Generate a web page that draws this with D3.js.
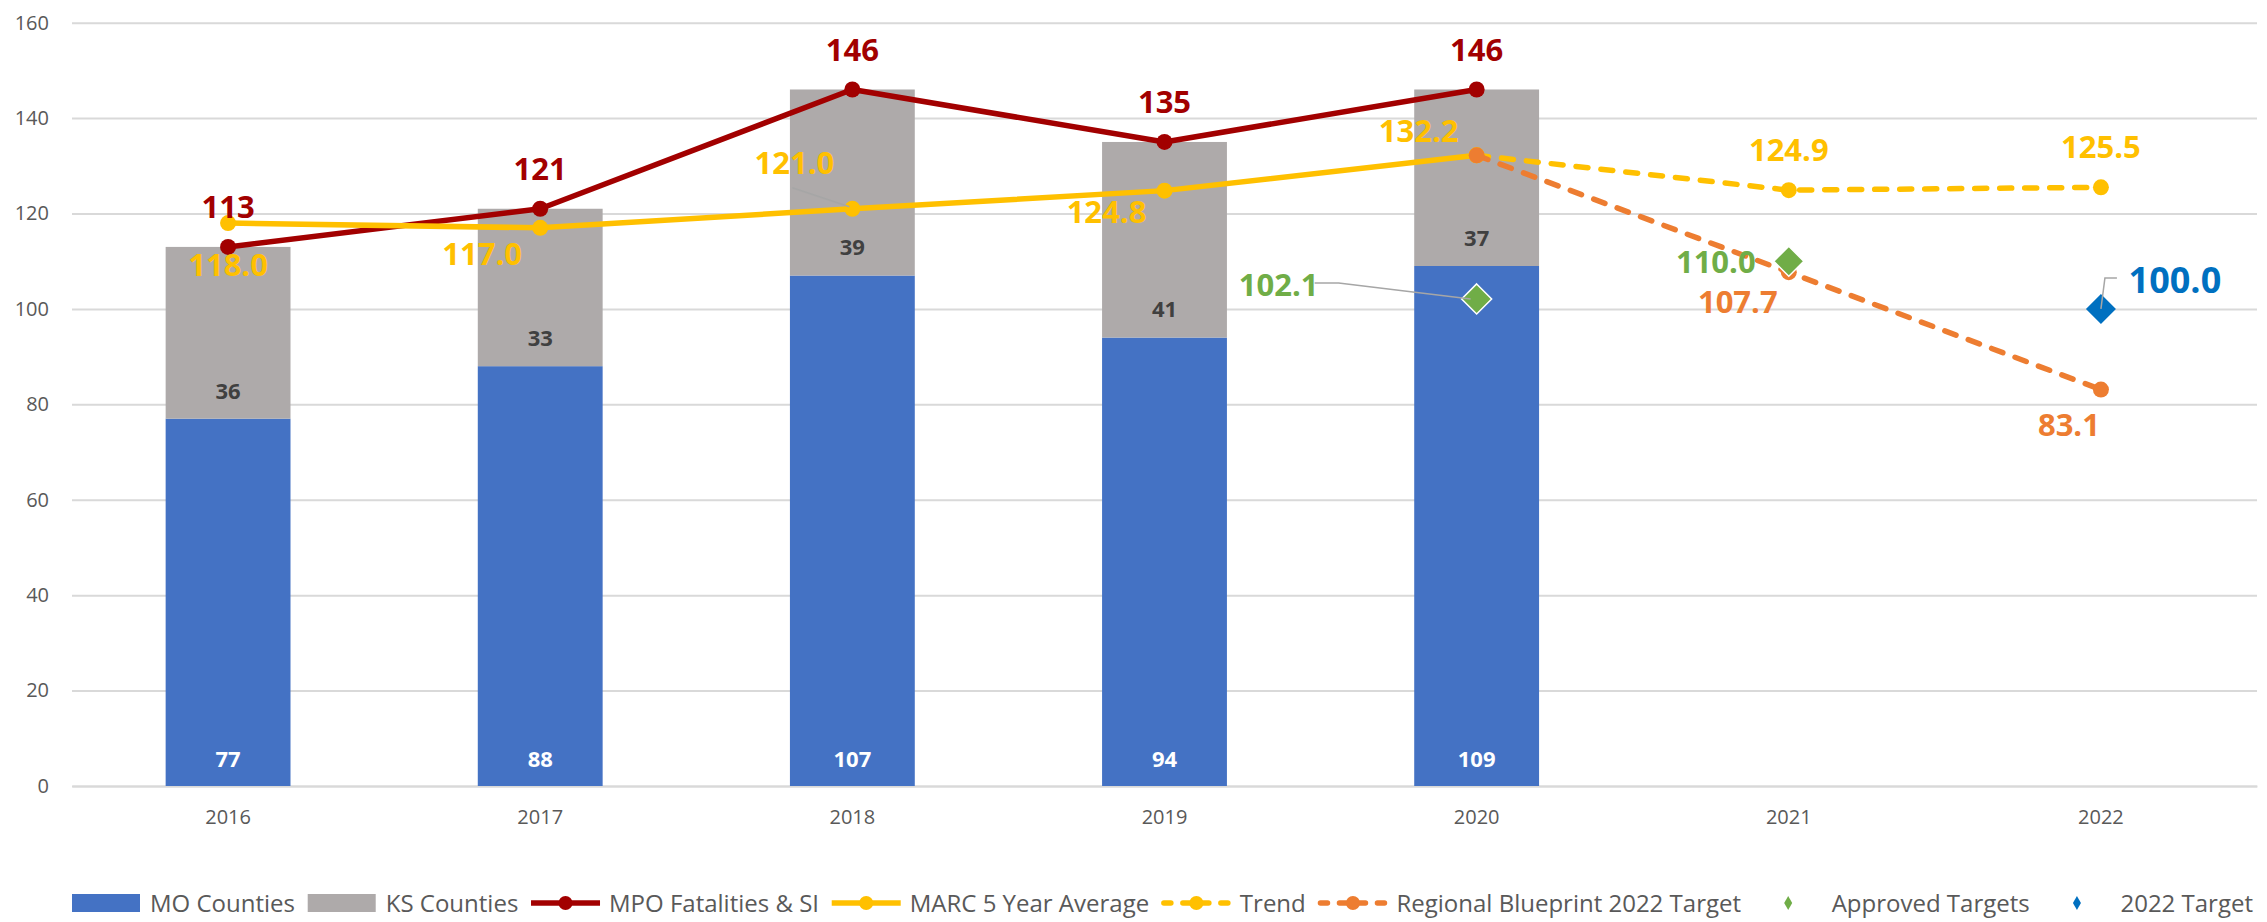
<!DOCTYPE html>
<html>
<head>
<meta charset="utf-8">
<script src="https://cdn.jsdelivr.net/npm/d3@7"></script>
<style>
  body { margin: 0; background: #fff; }
  svg { display: block; font-family: "Open Sans", sans-serif; }
</style>
</head>
<body>
<script>
// values
const years = ["2016", "2017", "2018", "2019", "2020", "2021", "2022"];
const barYears = ["2016", "2017", "2018", "2019", "2020"];
const moCounties = [77, 88, 107, 94, 109];
const ksCounties = [36, 33, 39, 41, 37];
const mpoTotal = [113, 121, 146, 135, 146];
const marcAvg = [118.0, 117.0, 121.0, 124.8, 132.2];
const trendYears = ["2020", "2021", "2022"];
const trend = [132.2, 124.9, 125.5];
const blueprint = [132.2, 107.7, 83.1];
const approvedYears = ["2020", "2021"];
const approved = [102.1, 110.0];
const targetYears = ["2022"];
const target2022 = [100.0];
const yTicks = [0, 20, 40, 60, 80, 100, 120, 140, 160];

// label nudges in px (layout only)
const marcLabelOff = [[0, 42], [-58, 26], [-58, -46], [-58, 21], [-58, -24]];
const trendLabelOff = [null, [0, -40], [0, -40]];
const blueLabelOff = [null, [-51, 30], [-32, 35]];
const apprLabelOff = [[-198, -14], [-73, 1]];

const w = 2267, h = 922;
const left = 72, right = 2257;
const svg = d3.select("body").append("svg").attr("width", w).attr("height", h);

const x = d3.scaleBand().domain(years).range([left, right]).paddingInner(0.6).paddingOuter(0.3);
const y = d3.scaleLinear().domain([0, 160]).range([786, 22.7]);
const cx = d => x(d) + x.bandwidth() / 2;

const colors = {
  mo: "#4472C4", ks: "#AEAAAA", mpo: "#A20000", marc: "#FFC000",
  trend: "#FFC000", blue: "#ED7D31", appr: "#70AD47", target: "#0070C0"
};

// y grid + labels
const yAxis = svg.append("g")
  .attr("transform", "translate(" + left + ",0)")
  .call(d3.axisLeft(y).tickValues(yTicks).tickSize(-(right - left)).tickPadding(23));
yAxis.select(".domain").remove();
yAxis.selectAll("line").attr("stroke", "#D9D9D9").attr("stroke-width", 2);
yAxis.selectAll("text").attr("fill", "#595959").style("font-size", "20px").style("font-family", "'Open Sans', sans-serif");

// x axis
const xAxis = svg.append("g")
  .attr("transform", "translate(0," + y(0) + ")")
  .call(d3.axisBottom(x).tickSize(0).tickPadding(24));
xAxis.select(".domain").attr("stroke", "#D9D9D9").attr("stroke-width", 2);
xAxis.selectAll("text").attr("fill", "#595959").style("font-size", "20px").style("font-family", "'Open Sans', sans-serif");

// stacked bars
const bars = barYears.map((yr, i) => ({ yr, mo: moCounties[i], ks: ksCounties[i] }));
svg.selectAll("rect.mo").data(bars).enter().append("rect")
  .attr("class", "mo")
  .attr("x", d => x(d.yr)).attr("width", x.bandwidth())
  .attr("y", d => y(d.mo)).attr("height", d => y(0) - y(d.mo))
  .attr("fill", colors.mo);
svg.selectAll("rect.ks").data(bars).enter().append("rect")
  .attr("class", "ks")
  .attr("x", d => x(d.yr)).attr("width", x.bandwidth())
  .attr("y", d => y(d.mo + d.ks)).attr("height", d => y(d.mo) - y(d.mo + d.ks))
  .attr("fill", colors.ks);

// bar labels (inside base)
svg.selectAll("text.mol").data(bars).enter().append("text")
  .attr("x", d => cx(d.yr)).attr("y", d => y(0) - 27).attr("dy", "0.36em")
  .attr("text-anchor", "middle").attr("fill", "#fff")
  .style("font-size", "22px").style("font-weight", "bold")
  .text(d => d.mo);
svg.selectAll("text.ksl").data(bars).enter().append("text")
  .attr("x", d => cx(d.yr)).attr("y", d => y(d.mo) - 28).attr("dy", "0.36em")
  .attr("text-anchor", "middle").attr("fill", "#404040")
  .style("font-size", "22px").style("font-weight", "bold")
  .text(d => d.ks);

const line = d3.line().x(d => cx(d.yr)).y(d => y(d.v));
function series(yrs, vals) { return yrs.map((yr, i) => ({ yr, v: vals[i] })); }

function drawLine(data, color, dashed) {
  svg.append("path").datum(data)
    .attr("d", line).attr("fill", "none")
    .attr("stroke", color).attr("stroke-width", 5.5)
    .attr("stroke-linecap", "round").attr("stroke-linejoin", "round")
    .attr("stroke-dasharray", dashed ? "12,13" : null);
  svg.append("g").selectAll("circle").data(data).enter().append("circle")
    .attr("cx", d => cx(d.yr)).attr("cy", d => y(d.v)).attr("r", 8)
    .attr("fill", color);
}

const mpoData = series(barYears, mpoTotal);
const marcData = series(barYears, marcAvg);
const trendData = series(trendYears, trend);
const blueData = series(trendYears, blueprint);
drawLine(mpoData, colors.mpo, false);
drawLine(marcData, colors.marc, false);
drawLine(trendData, colors.trend, true);
drawLine(blueData, colors.blue, true);

// diamonds
const diamond = "M0,-15L15,0L0,15L-15,0Z";
const apprData = series(approvedYears, approved);
const targetData = series(targetYears, target2022);
svg.selectAll("path.appr").data(apprData).enter().append("path")
  .attr("d", diamond).attr("transform", d => "translate(" + cx(d.yr) + "," + y(d.v) + ")")
  .attr("fill", colors.appr).attr("stroke", "#fff").attr("stroke-width", 1.5);
svg.selectAll("path.tgt").data(targetData).enter().append("path")
  .attr("d", diamond).attr("transform", d => "translate(" + cx(d.yr) + "," + y(d.v) + ")")
  .attr("fill", colors.target);

// leader lines
const lead = d3.line();
const p2018 = marcData[2];
svg.append("path")
  .attr("d", lead([[cx(p2018.yr) - 60, y(p2018.v) - 21], [cx(p2018.yr) - 3, y(p2018.v) - 2]]))
  .attr("fill", "none").attr("stroke", "#A6A6A6").attr("stroke-width", 1.5);
const a0 = apprData[0];
svg.append("path")
  .attr("d", lead([[cx(a0.yr) - 162, y(a0.v) - 16], [cx(a0.yr) - 138, y(a0.v) - 16], [cx(a0.yr) - 6, y(a0.v)]]))
  .attr("fill", "none").attr("stroke", "#A6A6A6").attr("stroke-width", 1.5);
const t0 = targetData[0];
svg.append("path")
  .attr("d", lead([[cx(t0.yr), y(t0.v)], [cx(t0.yr) + 4, y(t0.v) - 31], [cx(t0.yr) + 16, y(t0.v) - 31]]))
  .attr("fill", "none").attr("stroke", "#A6A6A6").attr("stroke-width", 1.5);

// value labels
function labels(data, color, fmt, offs, size) {
  data.forEach((d, i) => {
    const o = offs[i];
    if (!o) return;
    svg.append("text")
      .attr("x", cx(d.yr) + o[0]).attr("y", y(d.v) + o[1]).attr("dy", "0.36em")
      .attr("text-anchor", "middle").attr("fill", color)
      .style("font-size", (size || 31) + "px").style("font-weight", "bold")
      .text(fmt(d.v));
  });
}
const f0 = d3.format("d"), f1 = d3.format(".1f");
labels(mpoData, colors.mpo, f0, mpoData.map(() => [0, -40]));
labels(marcData, colors.marc, f1, marcLabelOff);
labels(trendData, colors.trend, f1, trendLabelOff);
labels(blueData, colors.blue, f1, blueLabelOff);
labels(apprData, colors.appr, f1, apprLabelOff);
labels(targetData, colors.target, f1, [[74, -29]], 36);

// legend, spread to span 72..2253 like the original
const legendItems = [
  { name: "MO Counties", type: "rect", color: colors.mo },
  { name: "KS Counties", type: "rect", color: colors.ks },
  { name: "MPO Fatalities & SI", type: "line", color: colors.mpo },
  { name: "MARC 5 Year Average", type: "line", color: colors.marc },
  { name: "Trend", type: "dash", color: colors.trend },
  { name: "Regional Blueprint 2022 Target", type: "dash", color: colors.blue },
  { name: "Approved Targets", type: "diamond", color: colors.appr },
  { name: "2022 Target", type: "diamond", color: colors.target }
];
const ly = 903, legL = 70, legR = 2253;
const groups = legendItems.map(it => {
  const g = svg.append("g");
  if (it.type === "rect") {
    g.append("rect").attr("x", 2).attr("y", -9).attr("width", 68).attr("height", 18).attr("fill", it.color);
  } else if (it.type === "diamond") {
    g.append("path").attr("d", "M36.5,-7L40.5,0L36.5,7L32.5,0Z").attr("fill", it.color);
  } else {
    if (it.type === "line") {
      g.append("line").attr("x1", 2).attr("x2", 71).attr("stroke", it.color).attr("stroke-width", 5.5);
    } else {
      g.append("line").attr("x1", 4).attr("x2", 69).attr("stroke", it.color).attr("stroke-width", 5.5)
        .attr("stroke-linecap", "round").attr("stroke-dasharray", "7,12");
    }
    g.append("circle").attr("cx", 36.5).attr("r", 7).attr("fill", it.color);
  }
  const t = g.append("text").attr("x", 80).attr("dy", "0.36em")
    .attr("fill", "#595959").style("font-size", "24px").text(it.name);
  return { g, wd: 80 + t.node().getComputedTextLength() };
});
const totalW = d3.sum(groups, d => d.wd);
const gap = Math.max(4, (legR - legL - totalW) / (groups.length - 1));
let lx = legL;
groups.forEach(d => {
  d.g.attr("transform", "translate(" + lx + "," + ly + ")");
  lx += d.wd + gap;
});
</script>
</body>
</html>
